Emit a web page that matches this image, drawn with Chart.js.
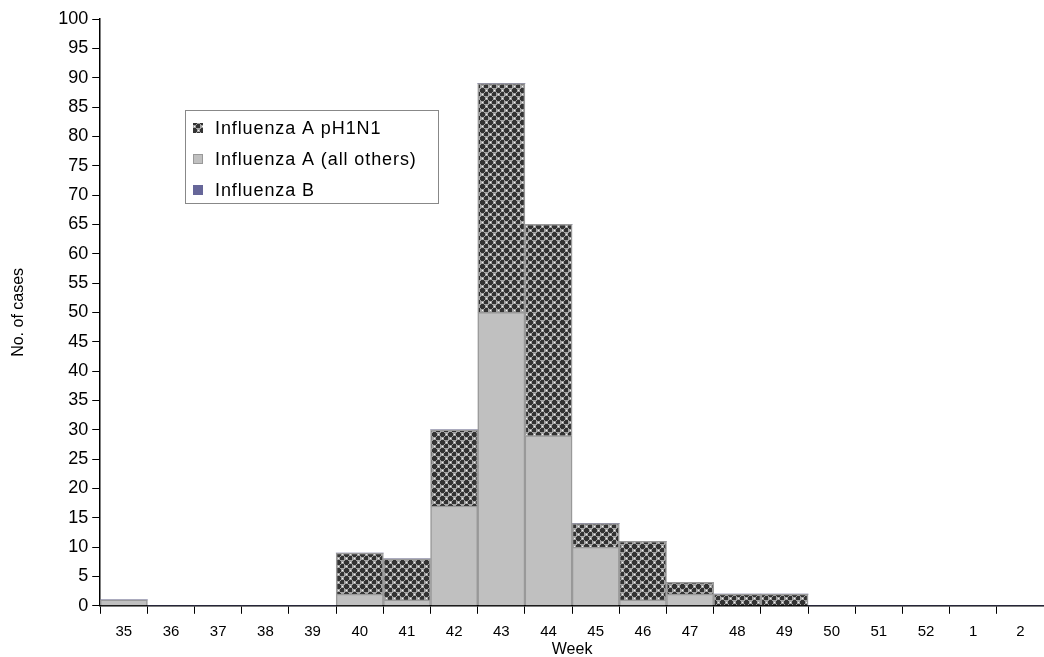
<!DOCTYPE html>
<html>
<head>
<meta charset="utf-8">
<script src="https://cdn.jsdelivr.net/npm/chart.js@4.4.1/dist/chart.umd.min.js"></script>
<style>
  html, body { margin: 0; padding: 0; background: #fff; }
  #wrap { width: 1044px; height: 657px; position: relative; }
</style>
</head>
<body>
<div id="wrap"><canvas id="barChart"></canvas></div>
<script>
// data
var weeks = ['35', '36', '37', '38', '39', '40', '41', '42', '43', '44', '45', '46', '47', '48', '49', '50', '51', '52', '1', '2'];
var fluAOthers = [1, 0, 0, 0, 0, 2, 1, 17, 50, 29, 10, 1, 2, 0, 0, 0, 0, 0, 0, 0];
var fluAH1N1 = [0, 0, 0, 0, 0, 7, 7, 13, 39, 36, 4, 10, 2, 2, 2, 0, 0, 0, 0, 0];
var fluB = [0, 0, 0, 0, 0, 0, 0, 0, 0, 0, 0, 0, 0, 0, 0, 0, 0, 0, 0, 0];

// crosshatch fill like the old spreadsheet pattern
function makePattern() {
    var c = document.createElement('canvas');
    c.width = 8; c.height = 8;
    var g = c.getContext('2d');
    g.fillStyle = '#a4a4a4';
    g.fillRect(0, 0, 8, 8);
    g.fillStyle = '#333333';
    // two dark plus shapes per tile
    [[2, 2], [6, 6]].forEach(function (p) {
        g.fillRect(p[0] - 1, p[1] - 2, 3, 5);
        g.fillRect(p[0] - 2, p[1] - 1, 5, 3);
    });
    g.fillStyle = '#f4f4f4';
    g.fillRect(6, 2, 1, 1);
    g.fillRect(2, 6, 1, 1);
    return g.createPattern(c, 'repeat');
}

var hatch = makePattern();
var font = 'Arial, "Liberation Sans", sans-serif';

// legend drawn inside the plot, order as in the original
var boxLegend = {
    id: 'boxLegend',
    afterDraw: function (chart) {
        var ctx = chart.ctx;
        var order = [1, 0, 2];
        var x = 185, y = 110, w = 253, h = 93;
        ctx.save();
        ctx.fillStyle = '#fff';
        ctx.fillRect(x, y, w, h);
        ctx.strokeStyle = '#888';
        ctx.lineWidth = 1;
        ctx.strokeRect(x + 0.5, y + 0.5, w, h);
        ctx.font = '18px ' + font;
        ctx.letterSpacing = '0.9px';
        ctx.textBaseline = 'middle';
        order.forEach(function (idx, i) {
            var ds = chart.data.datasets[idx];
            var cy = y + 18 + i * 31;
            ctx.fillStyle = ds.backgroundColor;
            ctx.fillRect(x + 8, cy - 5, 10, 10);
            if (idx === 0) {
                ctx.strokeStyle = '#999';
                ctx.strokeRect(x + 8.5, cy - 4.5, 9, 9);
            }
            ctx.fillStyle = '#000';
            ctx.fillText(ds.label, x + 30, cy + 1);
        });
        ctx.restore();
    }
};

var ctx = document.getElementById('barChart').getContext('2d');
new Chart(ctx, {
    type: 'bar',
    data: {
        labels: weeks,
        datasets: [
            {
                label: 'Influenza A (all others)',
                backgroundColor: '#c0c0c0',
                borderColor: '#999999',
                borderWidth: 1.5,
                data: fluAOthers
            },
            {
                label: 'Influenza A pH1N1',
                backgroundColor: hatch,
                borderColor: '#999999',
                borderWidth: 1.5,
                data: fluAH1N1
            },
            {
                label: 'Influenza B',
                backgroundColor: '#666699',
                borderColor: '#666699',
                borderWidth: 0,
                data: fluB
            }
        ]
    },
    options: {
        responsive: true,
        maintainAspectRatio: false,
        animation: false,
        layout: { padding: { top: 19, right: 0, left: 9, bottom: 0 } },
        datasets: { bar: { barPercentage: 1, categoryPercentage: 1 } },
        plugins: { legend: { display: false }, tooltip: { enabled: false } },
        scales: {
            x: {
                stacked: true,
                grid: { drawOnChartArea: false, color: '#000', tickLength: 8 },
                border: { color: '#000', width: 1.5 },
                ticks: { color: '#000', font: { family: font, size: 15 }, maxRotation: 0, padding: 9 },
                title: { display: true, text: 'Week', color: '#000', font: { family: font, size: 16 }, padding: { top: -10, bottom: -2 } }
            },
            y: {
                stacked: true,
                min: 0,
                max: 100,
                grid: { drawOnChartArea: false, color: '#000', tickLength: 8 },
                border: { color: '#000', width: 1.5 },
                ticks: { stepSize: 5, color: '#000', font: { family: font, size: 18 }, padding: 4 },
                title: { display: true, text: 'No. of cases', color: '#000', font: { family: font, size: 16 }, padding: { top: 0, bottom: 26 } }
            }
        }
    },
    plugins: [boxLegend]
});
</script>
</body>
</html>
